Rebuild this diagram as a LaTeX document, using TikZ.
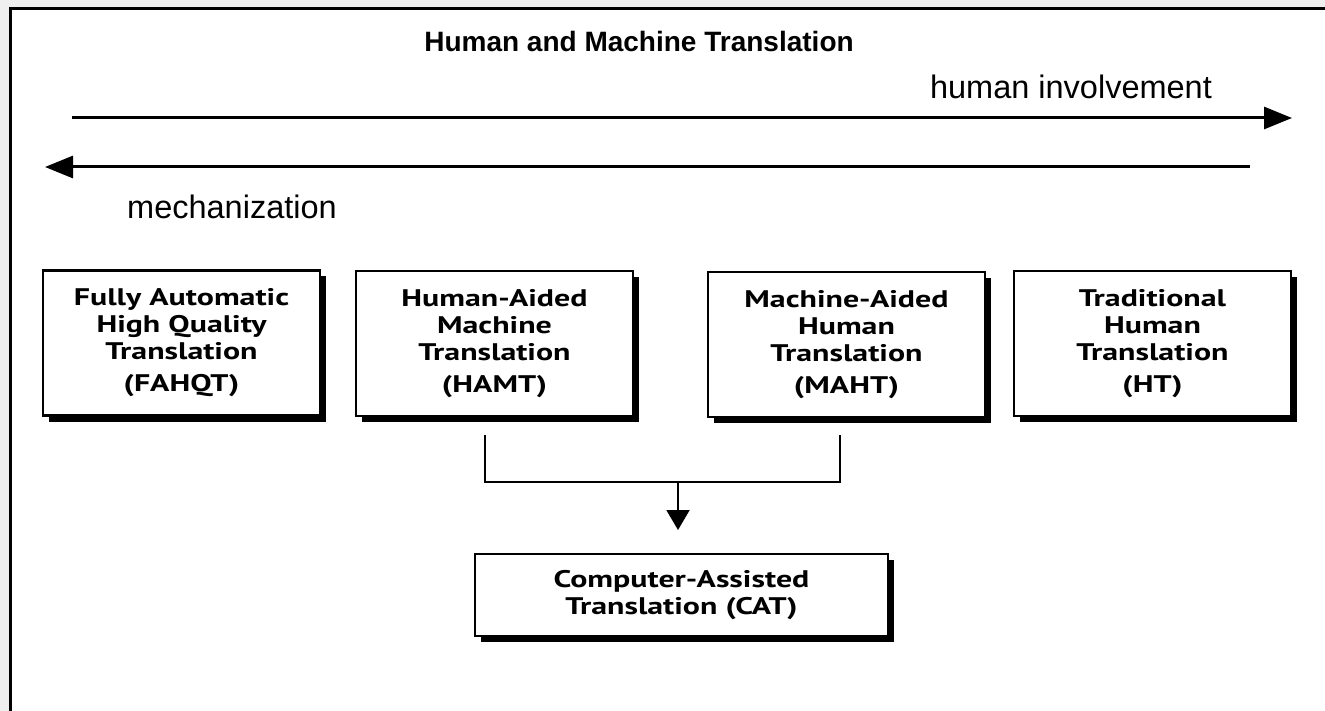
\documentclass[tikz,border=0pt]{standalone}
\usepackage{fontspec}
\setmainfont{Liberation Sans}
\newfontfamily\boxfont[FakeStretch=1.33]{PT Sans}
\usetikzlibrary{arrows.meta,shadows}
\definecolor{margingrey}{HTML}{EFEFEF}
\newcommand\myboxtext{\boxfont\bfseries\fontsize{24}{27}\selectfont}
\begin{document}
\begin{tikzpicture}[x=1pt,y=-1pt,
  box/.style={draw=black, line width=2.4pt, fill=white, minimum width=277pt, minimum height=145pt,
    inner sep=0pt, align=center, font=\myboxtext,
    drop shadow={shadow xshift=6pt, shadow yshift=-6pt, fill=black, opacity=1}},
  lbl/.style={anchor=base, inner sep=0pt, font=\fontsize{32.5}{36}\selectfont},
  ttl/.style={anchor=base, inner sep=0pt, font=\bfseries\fontsize{28}{32}\selectfont},
  bigarrow/.style={line width=3pt, -{Triangle[length=28pt,width=22pt]}},
  conn/.style={line width=2pt}]
\useasboundingbox (0,0) rectangle (1325,711);
\fill[margingrey] (0,0) rectangle (1325,711);
\fill[white] (10,9) rectangle (1325,711);
\draw[line width=3pt] (10,711) -- (10,9) -- (1325,9);

\node[ttl] (title) at (639,52) {Human and Machine Translation};
\node[lbl] (hinv) at (1071,99) {human involvement};
\node[lbl] (mech) at (232,219) {mechanization};

\coordinate (a1s) at (72,118);
\coordinate (a1e) at (1292,118);
\coordinate (a2s) at (1250,167);
\coordinate (a2e) at (45,167);
\draw[bigarrow] (a1s) -- (a1e);
\draw[bigarrow] (a2s) -- (a2e);

\node[box] (fahqt) at (181.5,343) {Fully Automatic\\High Quality\\Translation\\[5pt](FAHQT)};
\node[box] (hamt) at (494.5,343.5) {Human-Aided\\Machine\\Translation\\[5pt](HAMT)};
\node[box] (maht) at (846.5,344.5) {Machine-Aided\\Human\\Translation\\[5pt](MAHT)};
\node[box] (ht) at (1152.5,343.5) {Traditional\\Human\\Translation\\[5pt](HT)};
\node[box, minimum width=413pt, minimum height=82pt] (cat) at (681.5,595) {Computer-Assisted\\Translation (CAT)};

\coordinate (hamtdown) at (485,435);
\coordinate (mahtdown) at (840,435);
\coordinate (join) at (678,482);
\coordinate (cattop) at (678,530);
\draw[conn] (hamtdown) |- (join) -| (mahtdown);
\draw[conn, -{Triangle[length=20pt,width=23pt]}] (join) -- (cattop);
\end{tikzpicture}
\end{document}
